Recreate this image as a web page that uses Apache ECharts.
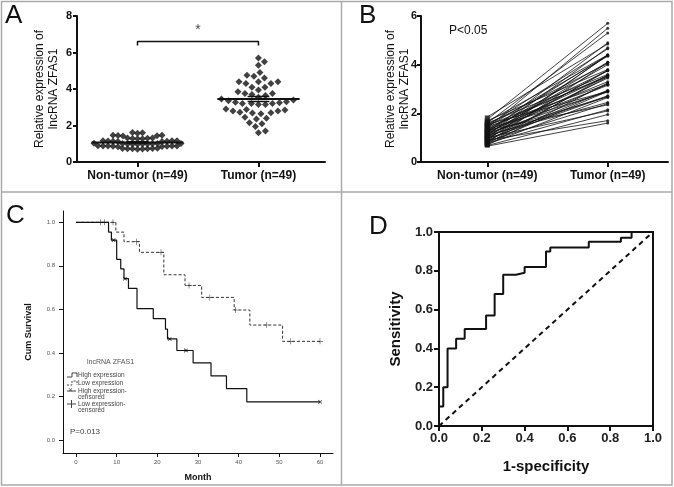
<!DOCTYPE html>
<html><head><meta charset="utf-8">
<script src="https://cdn.jsdelivr.net/npm/echarts@6/dist/echarts.min.js"></script>
<style>html,body{margin:0;padding:0;background:#fff}#c{width:674px;height:487px}</style>
</head><body><div id="c"></div>
<script>
// ---------- DATA ----------
const categories = ['Non-tumor (n=49)', 'Tumor (n=49)'];
const nonTumor = [1.62,1.58,1.6,1.47,1.44,1.46,1.42,1.45,1.32,1.29,1.31,1.28,1.3,1.27,1.17,1.14,1.16,1.13,1.15,1.12,1.16,1.14,1.02,0.99,1.01,0.98,1.0,0.97,1.03,0.99,1.01,0.98,0.88,0.86,0.89,0.85,0.87,0.86,0.88,0.84,0.87,0.74,0.72,0.73,0.71,0.75,0.72,0.74,0.7];
const tumor = [5.7,5.5,5.3,4.9,4.75,4.7,4.6,4.4,4.4,4.4,4.3,4.3,4.1,4.1,3.95,3.85,3.7,3.65,3.75,3.75,3.45,3.4,3.55,3.35,3.3,3.28,3.25,3.2,3.15,3.2,3.2,3.15,2.85,2.8,2.8,2.9,2.88,2.72,2.7,2.68,2.65,2.45,2.4,2.35,2.15,2.1,1.95,1.7,1.6];
const sigLabel = '*';

const bNormal = [1.75,1.4,1.6,1.2,1.85,1.1,1.5,0.9,1.3,1.65,1.0,1.45,1.25,0.8,1.55,1.15,1.7,0.95,1.35,1.05,1.6,0.75,1.2,1.4,0.85,1.5,1.1,1.3,0.7,1.0,1.45,1.25,0.9,1.15,1.55,0.8,1.35,1.05,0.95,1.2,0.72,1.1,0.85,1.3,0.78,1.0,0.68,0.9,0.65];
const bTumor = [5.7,5.5,5.3,4.9,4.85,4.7,4.65,4.4,4.4,4.4,4.38,4.35,4.1,4.1,4.05,4.0,3.8,3.78,3.75,3.75,3.6,3.58,3.55,3.55,3.5,3.5,3.45,3.3,3.25,3.2,3.2,3.15,2.95,2.92,2.9,2.9,2.88,2.72,2.7,2.68,2.65,2.45,2.4,2.35,2.15,2.1,1.95,1.7,1.6];
const pTextB = 'P<0.05';

const highMonth = [0,8,8.7,10,11,11.8,12.9,15,19,22,22.5,24.8,28.8,33.2,37,42,60];
const highSurv  = [1,0.955,0.918,0.83,0.786,0.741,0.696,0.603,0.557,0.509,0.464,0.411,0.354,0.294,0.236,0.175,0.175];
const highCensMonth = [9.2,12,23,27,60];
const highCensSurv  = [0.918,0.741,0.464,0.411,0.175];
const lowMonth = [0,9.8,11.8,15.6,21.6,26.8,30.9,38.9,42.75,50.8,60];
const lowSurv  = [1,0.955,0.911,0.862,0.759,0.71,0.655,0.597,0.528,0.453,0.453];
const lowCensMonth = [6,7,9.1,14.9,20.9,27.8,32.9,39.2,46.9,52.8,60];
const lowCensSurv  = [1,1,1,0.911,0.862,0.71,0.655,0.597,0.528,0.453,0.453];
const monthTicks = [0,10,20,30,40,50,60];
const survTicks = [0,0.2,0.4,0.6,0.8,1.0];
const pTextC = 'P=0.013';

const rocFpr = [0,0,0.02,0.04,0.08,0.12,0.22,0.26,0.30,0.36,0.40,0.50,0.52,0.70,0.85,0.90,1.0];
const rocTpr = [0,0.1,0.2,0.4,0.45,0.5,0.57,0.68,0.78,0.79,0.82,0.90,0.92,0.95,0.97,1.0,1.0];

// ---------- LAYOUT HELPERS ----------
const gA = {left:77, top:16, width:248, height:146};
const gB = {left:421, top:16, width:247, height:146};
const gC = {left:63, top:211, width:270, height:247};
const gD = {left:439, top:232, width:214, height:194};
const xA = {min:0.5, max:2.55};
const yA = {min:0, max:8};

function swarm(vals, center, pxX, pxY, D) {
  const order = vals.map((v,i)=>i).sort((a,b)=>vals[a]-vals[b]);
  const placed = []; const out = [];
  for (const i of order) {
    const py = vals[i]*pxY;
    let off = 0;
    for (let k=0;k<600;k++){
      const cand = (k%2 ? 1 : -1) * Math.ceil(k/2) * 0.5;
      let ok = true;
      for (const p of placed){
        const dx=p[0]-cand, dy=p[1]-py;
        if (dx*dx+dy*dy < D*D){ok=false;break;}
      }
      if (ok){off=cand;break;}
    }
    placed.push([off,py]);
    out.push([center + off/pxX, vals[i]]);
  }
  return out;
}
const pxXA = gA.width/(xA.max-xA.min), pxYA = gA.height/(yA.max-yA.min);
const swarmN = swarm(nonTumor, 1, pxXA, pxYA, 4.6);
const swarmT = swarm(tumor, 2, pxXA, pxYA, 7.0);
function mean(a){return a.reduce((s,v)=>s+v,0)/a.length;}
function sem(a){const m=mean(a);return Math.sqrt(a.reduce((s,v)=>s+(v-m)*(v-m),0)/(a.length-1))/Math.sqrt(a.length);}
const mN = mean(nonTumor), mT = mean(tumor), sN = sem(nonTumor), sT = sem(tumor);

const F = 'Liberation Sans, Arial, sans-serif';
const blk = '#111';

function catAxis(min, max, idx){
  return {type:'value', gridIndex:idx, min:min, max:max,
    axisLine:{show:true, onZero:false, lineStyle:{color:blk,width:2}},
    axisTick:{show:true, customValues:[1,2], length:5, lineStyle:{color:blk,width:2}},
    axisLabel:{customValues:[1,2], formatter:v=>categories[Math.round(v)-1], fontFamily:F, fontWeight:'bold', fontSize:12, color:blk, margin:8},
    splitLine:{show:false}};
}

const option = {
  animation:false,
  backgroundColor:'#fff',
  grid:[
    Object.assign({containLabel:false}, gA),
    Object.assign({containLabel:false}, gB),
    Object.assign({containLabel:false}, gC),
    Object.assign({containLabel:false, show:true, borderColor:blk, borderWidth:2, backgroundColor:'transparent'}, gD)
  ],
  xAxis:[
    catAxis(xA.min, xA.max, 0),
    catAxis(0.45, 2.5, 1),
    {type:'value', gridIndex:2, min:-3.2, max:63.2, name:'Month', nameLocation:'middle', nameGap:20,
      nameTextStyle:{fontFamily:F, fontWeight:'bold', fontSize:9, color:blk},
      axisLine:{onZero:false, lineStyle:{color:blk,width:1}},
      axisTick:{customValues:monthTicks, length:4, lineStyle:{color:blk}},
      axisLabel:{customValues:monthTicks, fontFamily:F, fontSize:6, color:'#555', margin:6},
      splitLine:{show:false}},
    {type:'value', gridIndex:3, min:0, max:1, interval:0.2, name:'1-specificity', nameLocation:'middle', nameGap:33,
      nameTextStyle:{fontFamily:F, fontWeight:'bold', fontSize:15, color:blk},
      axisLine:{onZero:false, lineStyle:{color:blk,width:2}},
      axisTick:{length:5, lineStyle:{color:blk,width:2}},
      axisLabel:{formatter:v=>v.toFixed(1), fontFamily:F, fontWeight:'bold', fontSize:13, color:'#222', margin:6},
      splitLine:{show:false}}
  ],
  yAxis:[
    {type:'value', gridIndex:0, min:yA.min, max:yA.max, interval:2,
      name:'Relative expression of\nlncRNA ZFAS1', nameLocation:'middle', nameGap:16, nameMoveOverlap:false,
      nameTextStyle:{fontFamily:F, fontSize:12, color:blk, lineHeight:14},
      axisLine:{show:true, lineStyle:{color:blk,width:2}},
      axisTick:{length:4, lineStyle:{color:blk,width:2}},
      axisLabel:{fontFamily:F, fontWeight:'bold', fontSize:11, color:blk, margin:5},
      splitLine:{show:false}},
    {type:'value', gridIndex:1, min:0, max:6, interval:2,
      name:'Relative expression of\nlncRNA ZFAS1', nameLocation:'middle', nameGap:9, nameMoveOverlap:false,
      nameTextStyle:{fontFamily:F, fontSize:12, color:blk, lineHeight:14},
      axisLine:{show:true, lineStyle:{color:blk,width:2}},
      axisTick:{length:4, lineStyle:{color:blk,width:2}},
      axisLabel:{fontFamily:F, fontWeight:'bold', fontSize:11, color:blk, margin:4},
      splitLine:{show:false}},
    {type:'value', gridIndex:2, min:-0.06, max:1.052,
      name:'Cum Survival', nameLocation:'middle', nameGap:30,
      nameTextStyle:{fontFamily:F, fontWeight:'bold', fontSize:9, color:blk},
      axisLine:{show:true, onZero:false, lineStyle:{color:blk,width:1}},
      axisTick:{customValues:survTicks, length:4, lineStyle:{color:blk}},
      axisLabel:{customValues:survTicks, formatter:v=>v.toFixed(1), fontFamily:F, fontSize:6, color:'#555', margin:8},
      splitLine:{show:false}},
    {type:'value', gridIndex:3, min:0, max:1, interval:0.2,
      name:'Sensitivity', nameLocation:'middle', nameGap:36,
      nameTextStyle:{fontFamily:F, fontWeight:'bold', fontSize:15, color:blk},
      axisLine:{show:true, lineStyle:{color:blk,width:2}},
      axisTick:{length:5, lineStyle:{color:blk,width:2}},
      axisLabel:{formatter:v=>v.toFixed(1), fontFamily:F, fontWeight:'bold', fontSize:13, color:'#222', margin:6},
      splitLine:{show:false}}
  ],
  series:[
    // Panel A
    {type:'scatter', xAxisIndex:0, yAxisIndex:0, data:swarmN.concat(swarmT), symbol:'diamond', symbolSize:7,
      itemStyle:{color:blk}, silent:true},
    {type:'line', xAxisIndex:0, yAxisIndex:0, data:[[1-0.38,mN],[1+0.38,mN]], symbol:'none', lineStyle:{color:blk,width:2}},
    {type:'line', xAxisIndex:0, yAxisIndex:0, data:[[2-0.34,mT],[2+0.34,mT]], symbol:'none', lineStyle:{color:blk,width:2}},
    {type:'line', xAxisIndex:0, yAxisIndex:0, data:[[1-0.09,mN+sN],[1+0.09,mN+sN]], symbol:'none', lineStyle:{color:blk,width:1.5}},
    {type:'line', xAxisIndex:0, yAxisIndex:0, data:[[1-0.09,mN-sN],[1+0.09,mN-sN]], symbol:'none', lineStyle:{color:blk,width:1.5}},
    {type:'line', xAxisIndex:0, yAxisIndex:0, data:[[2-0.09,mT+sT],[2+0.09,mT+sT]], symbol:'none', lineStyle:{color:blk,width:1.5}},
    {type:'line', xAxisIndex:0, yAxisIndex:0, data:[[2-0.09,mT-sT],[2+0.09,mT-sT]], symbol:'none', lineStyle:{color:blk,width:1.5}},
    {type:'line', xAxisIndex:0, yAxisIndex:0, data:[[1,6.38],[1,6.6],[2,6.6],[2,6.38]], symbol:'none', lineStyle:{color:blk,width:1.5}},
    {type:'scatter', xAxisIndex:0, yAxisIndex:0, data:[[1.5,7.2]], symbolSize:0,
      label:{show:true, formatter:sigLabel, position:'inside', fontFamily:F, fontSize:14, color:blk}},
    // Panel B
    {type:'lines', coordinateSystem:'cartesian2d', xAxisIndex:1, yAxisIndex:1,
      data:bNormal.map((n,i)=>({coords:[[1,n],[2,bTumor[i]]]})),
      lineStyle:{color:blk, width:0.8, opacity:1}, silent:true},
    {type:'scatter', xAxisIndex:1, yAxisIndex:1, data:bNormal.map(n=>[1,n]), symbol:'rect', symbolSize:[5,3], itemStyle:{color:blk}, silent:true},
    {type:'scatter', xAxisIndex:1, yAxisIndex:1, data:bTumor.map(t=>[2,t]), symbol:'circle', symbolSize:3, itemStyle:{color:blk}, silent:true},
    // Panel C
    {type:'line', xAxisIndex:2, yAxisIndex:2, step:'end', data:lowMonth.map((m,i)=>[m,lowSurv[i]]), symbol:'none',
      lineStyle:{color:'#333', width:1, type:[3,2]}},
    {type:'line', xAxisIndex:2, yAxisIndex:2, step:'end', data:highMonth.map((m,i)=>[m,highSurv[i]]), symbol:'none',
      lineStyle:{color:blk, width:1.2}},
    {type:'scatter', xAxisIndex:2, yAxisIndex:2, data:lowCensMonth.map((m,i)=>[m,lowCensSurv[i]]),
      symbol:'path://M4,0h1v9h-1z M0,4h9v1h-9z', symbolSize:6, itemStyle:{color:'#333'}, silent:true},
    {type:'scatter', xAxisIndex:2, yAxisIndex:2, data:highCensMonth.map((m,i)=>[m,highCensSurv[i]]),
      symbol:'path://M4,0h1.5v9h-1.5z M0,4h9v1.5h-9z', symbolRotate:45, symbolSize:5, itemStyle:{color:blk}, silent:true},
    // Panel D
    {type:'line', xAxisIndex:3, yAxisIndex:3, data:[[0,0],[1,1]], symbol:'none', lineStyle:{color:blk, width:2, type:[5,4]}},
    {type:'line', xAxisIndex:3, yAxisIndex:3, step:'end', data:rocFpr.map((f,i)=>[f,rocTpr[i]]), symbol:'none',
      lineStyle:{color:blk, width:2}}
  ],
  graphic:[
    {type:'rect', shape:{x:1.5,y:1.5,width:670.5,height:483.5}, style:{fill:'none', stroke:'#aaa', lineWidth:1.5}, silent:true},
    {type:'line', shape:{x1:341.5,y1:1.5,x2:341.5,y2:485}, style:{stroke:'#aaa', lineWidth:1.5}, silent:true},
    {type:'line', shape:{x1:1.5,y1:192,x2:672,y2:192}, style:{stroke:'#aaa', lineWidth:1.5}, silent:true},
    {type:'text', left:5, top:3, style:{text:'A', font:'26px '+F, fill:blk}},
    {type:'text', left:359, top:3, style:{text:'B', font:'26px '+F, fill:blk}},
    {type:'text', left:6, top:203, style:{text:'C', font:'26px '+F, fill:blk}},
    {type:'text', left:369, top:214, style:{text:'D', font:'26px '+F, fill:blk}},
    {type:'text', left:449, top:25, style:{text:pTextB, font:'12px '+F, fill:blk}},
    // Panel C legend
    {type:'text', left:87, top:359, style:{text:'lncRNA ZFAS1', font:'7px '+F, fill:'#555'}},
    {type:'polyline', shape:{points:[[67,377],[72,377],[72,373],[77,373],[77,377]]}, style:{stroke:'#444', fill:'none', lineWidth:1}},
    {type:'text', left:78, top:372, style:{text:'High expression', font:'6.5px '+F, fill:'#444'}},
    {type:'polyline', shape:{points:[[67,385],[72,385],[72,381],[77,381],[77,385]]}, style:{stroke:'#444', fill:'none', lineWidth:1, lineDash:[2,1.5]}},
    {type:'text', left:78, top:380, style:{text:'Low expression', font:'6.5px '+F, fill:'#444'}},
    {type:'line', shape:{x1:67,y1:391,x2:76,y2:391}, style:{stroke:'#444', lineWidth:1}},
    {type:'text', left:68, top:387, style:{text:'✕', font:'6px '+F, fill:'#444'}},
    {type:'text', left:78, top:388, style:{text:'High expression-\ncensored', font:'6.5px '+F, fill:'#444', lineHeight:6}},
    {type:'line', shape:{x1:67,y1:404,x2:76,y2:404}, style:{stroke:'#444', lineWidth:1}},
    {type:'line', shape:{x1:71.5,y1:400,x2:71.5,y2:408}, style:{stroke:'#444', lineWidth:1}},
    {type:'text', left:78, top:401, style:{text:'Low expression-\ncensored', font:'6.5px '+F, fill:'#444', lineHeight:6}},
    {type:'text', left:70, top:428, style:{text:pTextC, font:'8px '+F, fill:'#444'}}
  ]
};
const chart = echarts.init(document.getElementById('c'), null, {renderer:'canvas'});
chart.setOption(option);
</script></body></html>
